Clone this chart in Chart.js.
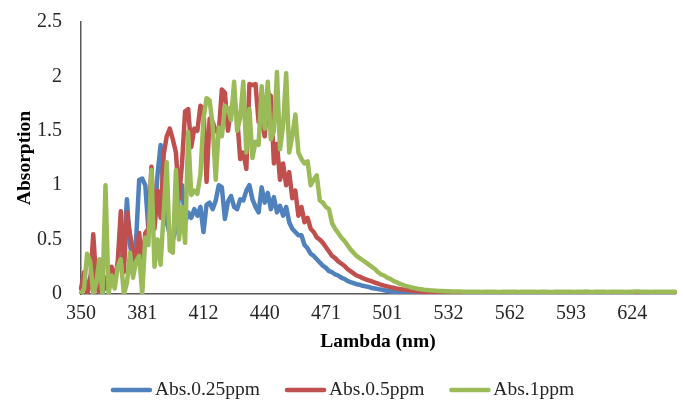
<!DOCTYPE html>
<html>
<head>
<meta charset="utf-8">
<script src="https://cdn.jsdelivr.net/npm/chart.js@4/dist/chart.umd.min.js"></script>
<style>
  html, body { margin: 0; padding: 0; background: #fff; }
  #wrap { width: 683px; height: 406px; }
</style>
</head>
<body>
<div id="wrap"><canvas id="chart" width="683" height="406"></canvas></div>
<script>
// tick labels shown on the category axis, one every STEP points
const tickLabels = [350, 381, 412, 440, 471, 501, 532, 562, 593, 624];
const STEP = 20;

const seriesNames = ["Abs.0.25ppm", "Abs.0.5ppm", "Abs.1ppm"];
const seriesColors = ["#4F81BD", "#C0504D", "#9BBB59"];

const abs025 = [
  0.00, 0.10, 0.05, 0.15, 0.20, 0.05, 0.10, 0.00, 0.15, 0.10,
  0.20, 0.15, 0.25, 0.30, 0.40, 0.87, 0.45, 0.30, 0.50, 1.05,
  1.06, 1.00, 0.60, 0.70, 0.65, 1.10, 1.37, 0.90, 0.66, 0.55,
  0.50, 0.60, 0.90, 1.00, 0.65, 0.75, 0.70, 0.78, 0.72, 0.80,
  0.57, 0.82, 0.84, 0.78, 0.86, 1.00, 0.98, 0.69, 0.85, 0.90,
  0.80, 0.78, 0.87, 0.86, 0.95, 1.00, 0.87, 0.80, 0.75, 0.98,
  0.84, 0.93, 0.78, 0.89, 0.75, 0.81, 0.72, 0.80, 0.66, 0.60,
  0.57, 0.54, 0.54, 0.45, 0.42, 0.37, 0.35, 0.32, 0.29, 0.26,
  0.24, 0.21, 0.20, 0.18, 0.17, 0.15, 0.14, 0.12, 0.11, 0.10,
  0.09, 0.085, 0.075, 0.07, 0.065, 0.055, 0.05, 0.045, 0.04, 0.035,
  0.03, 0.025, 0.02, 0.018, 0.015, 0.012, 0.01, 0.008, 0.006, 0.005,
  0.004, 0.003, 0.003, 0.002, 0.002, 0.001, 0.001, 0, 0, 0,
  0, 0, 0, 0, 0, 0, 0, 0, 0, 0,
  0, 0, 0, 0, 0, 0, 0, 0, 0, 0,
  0, 0, 0, 0, 0, 0, 0, 0, 0, 0,
  0, 0, 0, 0, 0, 0, 0, 0, 0, 0,
  0, 0, 0, 0, 0, 0, 0, 0, 0, 0,
  0, 0, 0, 0, 0, 0, 0, 0, 0, 0,
  0, 0, 0, 0, 0, 0, 0, 0, 0, 0,
  0, 0, 0, 0, 0
];

const abs05 = [
  0.05, 0.20, 0.00, 0.10, 0.55, 0.10, 0.00, 0.15, 0.05, 0.20,
  0.25, 0.10, 0.30, 0.76, 0.20, 0.75, 0.55, 0.40, 0.30, 0.56,
  0.25, 0.56, 0.60, 1.17, 0.60, 0.95, 0.70, 1.28, 1.45, 1.52,
  1.42, 1.30, 0.88, 1.20, 1.68, 1.70, 1.35, 1.52, 1.50, 1.73,
  1.70, 1.03, 1.61, 1.58, 1.50, 1.48, 1.88, 1.85, 1.50, 1.70,
  1.80, 1.62, 1.24, 1.30, 1.15, 1.93, 1.92, 1.93, 1.58, 1.60,
  1.45, 1.85, 1.82, 1.20, 1.38, 1.05, 1.20, 1.00, 1.12, 0.88,
  0.95, 0.72, 0.80, 0.66, 0.70, 0.60, 0.57, 0.52, 0.50, 0.47,
  0.43, 0.39, 0.35, 0.33, 0.30, 0.28, 0.26, 0.23, 0.21, 0.19,
  0.17, 0.16, 0.145, 0.135, 0.125, 0.115, 0.105, 0.095, 0.085, 0.077,
  0.07, 0.063, 0.057, 0.051, 0.046, 0.042, 0.038, 0.034, 0.031, 0.028,
  0.025, 0.022, 0.02, 0.018, 0.016, 0.014, 0.013, 0.012, 0.011, 0.01,
  0.009, 0.008, 0.008, 0.007, 0.007, 0.006, 0.006, 0.005, 0.005, 0.005,
  0.004, 0.004, 0.004, 0.004, 0.004, 0.003, 0.003, 0.003, 0.003, 0.003,
  0.003, 0.003, 0.002, 0.002, 0.002, 0.002, 0.002, 0.002, 0.002, 0.002,
  0.002, 0.002, 0.002, 0.002, 0.002, 0.002, 0.002, 0.002, 0.002, 0.002,
  0.002, 0.002, 0.002, 0.002, 0.002, 0.002, 0.002, 0.002, 0.002, 0.002,
  0.002, 0.002, 0.002, 0.002, 0.002, 0.002, 0.002, 0.002, 0.002, 0.002,
  0.002, 0.002, 0.002, 0.002, 0.002, 0.002, 0.002, 0.002, 0.002, 0.002,
  0.002, 0.002, 0.002, 0.002, 0.002
];

const abs1 = [
  0.00, 0.05, 0.37, 0.30, 0.00, 0.10, 0.32, 0.00, 1.00, 0.00,
  0.17, 0.05, 0.25, 0.32, 0.00, 0.10, 0.38, 0.15, 0.30, 0.35,
  0.00, 0.52, 0.45, 1.14, 0.25, 0.50, 0.27, 0.75, 1.21, 0.40,
  0.38, 1.14, 0.50, 0.80, 0.47, 1.49, 0.91, 0.95, 0.92, 1.10,
  1.61, 1.80, 1.78, 1.55, 1.05, 1.53, 1.45, 1.73, 1.70, 1.60,
  1.95, 1.50, 1.62, 1.95, 1.30, 1.70, 1.25, 1.40, 1.37, 1.91,
  1.52, 1.95, 1.42, 1.50, 2.04, 1.33, 1.55, 2.03, 1.30, 1.45,
  1.65, 1.30, 1.24, 1.20, 1.22, 1.00, 1.05, 1.09, 0.86, 0.84,
  0.80, 0.78, 0.65, 0.60, 0.56, 0.52, 0.49, 0.45, 0.41, 0.38,
  0.35, 0.33, 0.31, 0.29, 0.27, 0.25, 0.23, 0.20, 0.18, 0.17,
  0.15, 0.14, 0.12, 0.11, 0.095, 0.085, 0.075, 0.068, 0.06, 0.054,
  0.048, 0.044, 0.04, 0.037, 0.034, 0.032, 0.03, 0.028, 0.027, 0.026,
  0.025, 0.024, 0.023, 0.022, 0.022, 0.021, 0.021, 0.02, 0.02, 0.02,
  0.02, 0.019, 0.02, 0.021, 0.02, 0.02, 0.019, 0.019, 0.02, 0.02,
  0.021, 0.02, 0.02, 0.019, 0.02, 0.02, 0.02, 0.021, 0.02, 0.019,
  0.02, 0.02, 0.02, 0.019, 0.019, 0.02, 0.021, 0.02, 0.02, 0.02,
  0.02, 0.019, 0.02, 0.02, 0.021, 0.022, 0.02, 0.019, 0.02, 0.02,
  0.02, 0.02, 0.019, 0.02, 0.02, 0.021, 0.02, 0.02, 0.019, 0.02,
  0.021, 0.022, 0.022, 0.021, 0.02, 0.02, 0.019, 0.02, 0.02, 0.02,
  0.02, 0.021, 0.02, 0.02, 0.02
];

const seriesValues = [abs025, abs05, abs1];

// category labels: only every STEP-th point carries a wavelength label
const categories = abs025.map((v, i) => (i % STEP === 0 && tickLabels[i / STEP] !== undefined) ? String(tickLabels[i / STEP]) : "");

const FONT = "'Liberation Serif', 'Times New Roman', serif";
const AXIS_COLOR = "#595959";
const TEXT_COLOR = "#262626";

const datasets = seriesValues.map((vals, k) => ({
  label: seriesNames[k],
  data: vals,
  borderColor: seriesColors[k],
  backgroundColor: seriesColors[k],
  borderWidth: 4.5,
  pointRadius: 0,
  pointHoverRadius: 0,
  borderJoinStyle: "round",
  borderCapStyle: "round",
  tension: 0,
  fill: false,
  order: 2 - k   // green drawn on top, like the original
}));

// Excel-like legend row under the axis title (line sample, short gap, text)
const legendRow = {
  id: "legendRow",
  afterDraw(chart) {
    const ctx = chart.ctx;
    const lineLen = 41, gapText = 3, gapItem = 25, y = 390;
    ctx.save();
    ctx.font = "19.5px " + FONT;
    const widths = chart.data.datasets.map(d => ctx.measureText(d.label).width);
    const total = widths.reduce((a, w) => a + lineLen + gapText + w, 0) + gapItem * (widths.length - 1);
    let x = chart.width / 2 + 1 - total / 2;
    chart.data.datasets.forEach((d, i) => {
      ctx.strokeStyle = d.borderColor;
      ctx.lineWidth = 4.5;
      ctx.lineCap = "round";
      ctx.beginPath();
      ctx.moveTo(x + 2, y);
      ctx.lineTo(x + lineLen - 2, y);
      ctx.stroke();
      ctx.fillStyle = TEXT_COLOR;
      ctx.textBaseline = "middle";
      ctx.textAlign = "left";
      ctx.fillText(d.label, x + lineLen + gapText, y);
      x += lineLen + gapText + widths[i] + gapItem;
    });
    ctx.restore();
  }
};

new Chart(document.getElementById("chart"), {
  type: "line",
  data: { labels: categories, datasets },
  plugins: [legendRow],
  options: {
    responsive: false,
    animation: false,
    devicePixelRatio: 1,
    layout: { padding: { top: 22, right: 6, bottom: 44, left: 0 } },
    plugins: {
      tooltip: { enabled: false },
      legend: { display: false }
    },
    scales: {
      x: {
        type: "category",
        offset: false,
        grid: { display: false, drawTicks: false },
        border: { display: true, color: AXIS_COLOR, width: 1.5 },
        ticks: {
          autoSkip: false,
          maxRotation: 0,
          minRotation: 0,
          padding: 8,
          color: TEXT_COLOR,
          font: { family: FONT, size: 20 }
        },
        title: {
          display: true,
          text: "Lambda (nm)",
          color: "#000",
          font: { family: FONT, size: 19.5, weight: "bold" },
          padding: { top: 0, bottom: 8 }
        },
        afterFit: (scale) => { scale.height = 68; }
      },
      y: {
        min: 0,
        max: 2.5,
        grid: { display: false, drawTicks: false },
        border: { display: true, color: AXIS_COLOR, width: 1.5 },
        ticks: {
          stepSize: 0.5,
          padding: 19,
          color: TEXT_COLOR,
          font: { family: FONT, size: 20 },
          callback: (v) => String(v)
        },
        title: {
          display: true,
          text: "Absorption",
          color: "#000",
          font: { family: FONT, size: 19.5, weight: "bold" },
          padding: { top: 13, bottom: 0 }
        },
        afterFit: (scale) => {
          scale.width = 81;
          scale.paddingTop = 0;
          scale.paddingBottom = 0;
        }
      }
    }
  }
});
</script>
</body>
</html>
